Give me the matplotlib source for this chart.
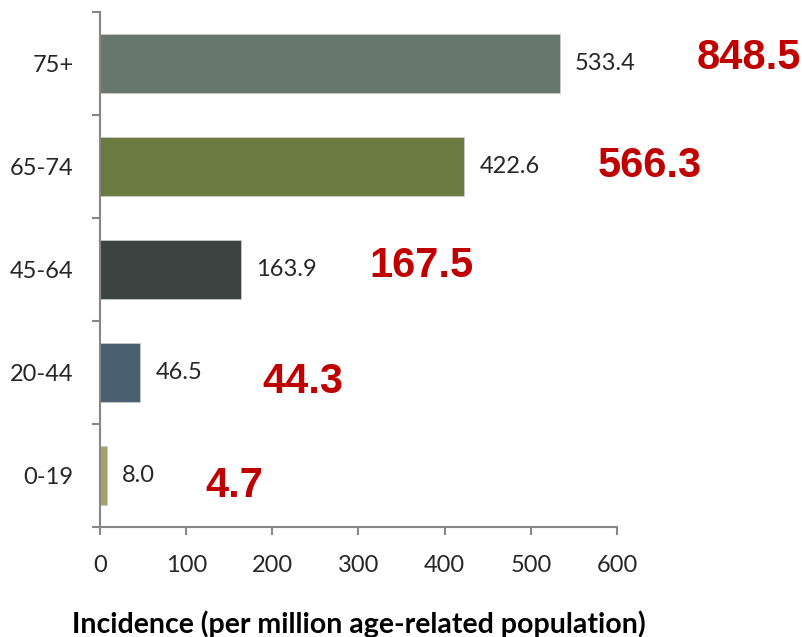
import numpy as np
import matplotlib.pyplot as plt

# Data
ages = ['0-19', '20-44', '45-64', '65-74', '75+']
incidence = [8.0, 46.5, 163.9, 422.6, 533.4]
other = ['4.7', '44.3', '167.5', '566.3', '848.5']
colors = ['#A0A26C', '#4A5F70', '#3D4341', '#6A7A40', '#687870']

# where the big red numbers sit (x in data units, y shift in categories)
red_x = [122, 188, 313, 578, 692]
red_dy = [-0.1, -0.09, 0.03, 0.0, 0.05]

fig = plt.figure(figsize=(8.02, 6.37), dpi=100)
ax = fig.add_axes([0.1247, 0.1727, 0.6446, 0.8085])

y = np.arange(len(ages))
ax.barh(y, incidence, height=0.58, color=colors, edgecolor='#c8ccc8', linewidth=0.6)

for i in range(len(ages)):
    ax.annotate('%.1f' % incidence[i], (incidence[i], y[i]), xytext=(11, 0),
                textcoords='offset points', va='center', ha='left',
                fontsize=17, color='#262626', family='Lato')
    ax.text(red_x[i], y[i] + red_dy[i], other[i], va='center', ha='left',
            fontsize=30, fontweight='bold', color='#C00000', family='Liberation Sans',
            clip_on=False)

ax.set_xlim(0, 600)
ax.set_ylim(-0.5, 4.5)
ax.set_xticks(np.arange(0, 601, 100))
ax.set_yticks(np.arange(-0.5, 5, 1))
ax.set_yticklabels([])
ax.set_yticks(y, minor=True)
ax.set_yticklabels(ages, minor=True, fontsize=17, family='Lato', color='#262626')
ax.tick_params(axis='y', which='minor', length=0, pad=19)
ax.tick_params(axis='both', which='major', length=6, width=1.5, color='#868686',
               labelsize=17, labelcolor='#262626')
ax.tick_params(axis='x', pad=14)
for lab in ax.get_xticklabels():
    lab.set_family('Lato')

for s in ['top', 'right']:
    ax.spines[s].set_visible(False)
for s in ['left', 'bottom']:
    ax.spines[s].set_color('#868686')
    ax.spines[s].set_linewidth(1.5)

ax.set_xlabel('Incidence (per million age-related population)', fontsize=20.5,
              fontweight='bold', family='Lato', labelpad=25)

fig.savefig('out.png', dpi=100)
